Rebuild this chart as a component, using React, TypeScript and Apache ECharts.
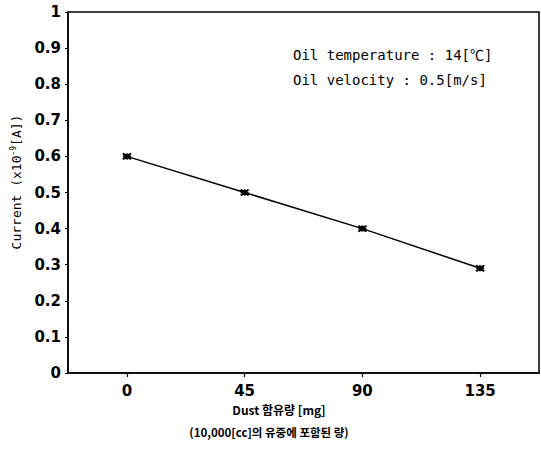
import React, { useEffect, useRef } from "react";
import * as echarts from "echarts";

const dust = [0, 45, 90, 135];
const current = [0.6, 0.5, 0.4, 0.29];
const xTicks = [0, 45, 90, 135];
const yName = "Current (x10{sup|-9}[A])";
const xName1 = "Dust 함유량 [mg]";
const xName2 = "(10,000[cc]의 유중에 포함된 량)";
const note1 = "Oil temperature : 14[℃]";
const note2 = "Oil velocity : 0.5[m/s]";

const MONO = "'DejaVu Sans Mono', 'Noto Sans CJK KR', monospace";
const KR = "'Noto Sans CJK KR', sans-serif";
const LABEL = "'DejaVu Sans', sans-serif";

export default function App() {
  const ref = useRef<HTMLDivElement>(null);
  useEffect(() => {
    if (!ref.current) return;
    const chart = echarts.init(ref.current, undefined, { renderer: "svg" });
    chart.setOption({
      animation: false,
      backgroundColor: "#ffffff",
      grid: {
        left: 68,
        top: 12,
        right: 2,
        bottom: 77,
        show: true,
        borderColor: "#000",
        borderWidth: 1.5,
        backgroundColor: "transparent",
      },
      xAxis: {
        type: "value",
        min: -22.5,
        max: 157.5,
        splitLine: { show: false },
        axisLine: { show: true, onZero: false, lineStyle: { color: "#000", width: 1.5 } },
        axisTick: {
          show: true,
          inside: false,
          length: 4,
          customValues: xTicks,
          lineStyle: { color: "#000", width: 1.2 },
        },
        axisLabel: {
          customValues: xTicks,
          margin: 10,
          color: "#000",
          fontSize: 15,
          fontWeight: "bold",
          fontFamily: LABEL,
        },
      },
      yAxis: {
        type: "value",
        min: 0,
        max: 1,
        interval: 0.1,
        splitLine: { show: false },
        axisLine: { show: true, onZero: false, lineStyle: { color: "#000", width: 1.5 } },
        axisTick: { show: true, inside: false, length: 3, lineStyle: { color: "#000", width: 1 } },
        axisLabel: {
          margin: 7,
          color: "#000",
          fontSize: 15,
          fontWeight: "bold",
          fontFamily: LABEL,
          formatter: (v: number) => String(Math.round(v * 10) / 10),
        },
      },
      series: [
        {
          type: "line",
          data: dust.map((d, i) => [d, current[i]]),
          lineStyle: { color: "#000", width: 1.5 },
          symbol: "path://M0,0L10,10M10,0L0,10M5,0L5,10M0,5L10,5",
          symbolSize: [8, 6],
          itemStyle: { color: "#000", borderColor: "#000", borderWidth: 2 },
          showSymbol: true,
        },
      ],
      graphic: [
        {
          type: "text",
          x: 16,
          y: 182,
          rotation: Math.PI / 2,
          style: {
            text: yName,
            fontFamily: MONO,
            fontSize: 13,
            fill: "#000",
            align: "center",
            verticalAlign: "middle",
            rich: {
              sup: { fontSize: 8, verticalAlign: "top", padding: [0, 0, 6, 0], fontFamily: MONO },
            },
          },
        },
        {
          type: "text",
          x: 293,
          y: 55,
          style: {
            text: note1,
            fontFamily: MONO,
            fontSize: 14,
            fill: "#000",
            align: "left",
            verticalAlign: "middle",
          },
        },
        {
          type: "text",
          x: 293,
          y: 80,
          style: {
            text: note2,
            fontFamily: MONO,
            fontSize: 14,
            fill: "#000",
            align: "left",
            verticalAlign: "middle",
          },
        },
        {
          type: "text",
          x: 279,
          y: 409,
          style: {
            text: xName1,
            fontFamily: KR,
            fontSize: 12,
            fontWeight: "bold",
            fill: "#000",
            align: "center",
            verticalAlign: "middle",
          },
        },
        {
          type: "text",
          x: 269,
          y: 432,
          style: {
            text: xName2,
            fontFamily: KR,
            fontSize: 11.5,
            fontWeight: "bold",
            fill: "#000",
            align: "center",
            verticalAlign: "middle",
          },
        },
      ],
    });
    return () => chart.dispose();
  }, []);
  return (
    <div
      ref={ref}
      style={{ position: "fixed", left: 0, top: 0, width: 541, height: 450, background: "#fff" }}
    />
  );
}
